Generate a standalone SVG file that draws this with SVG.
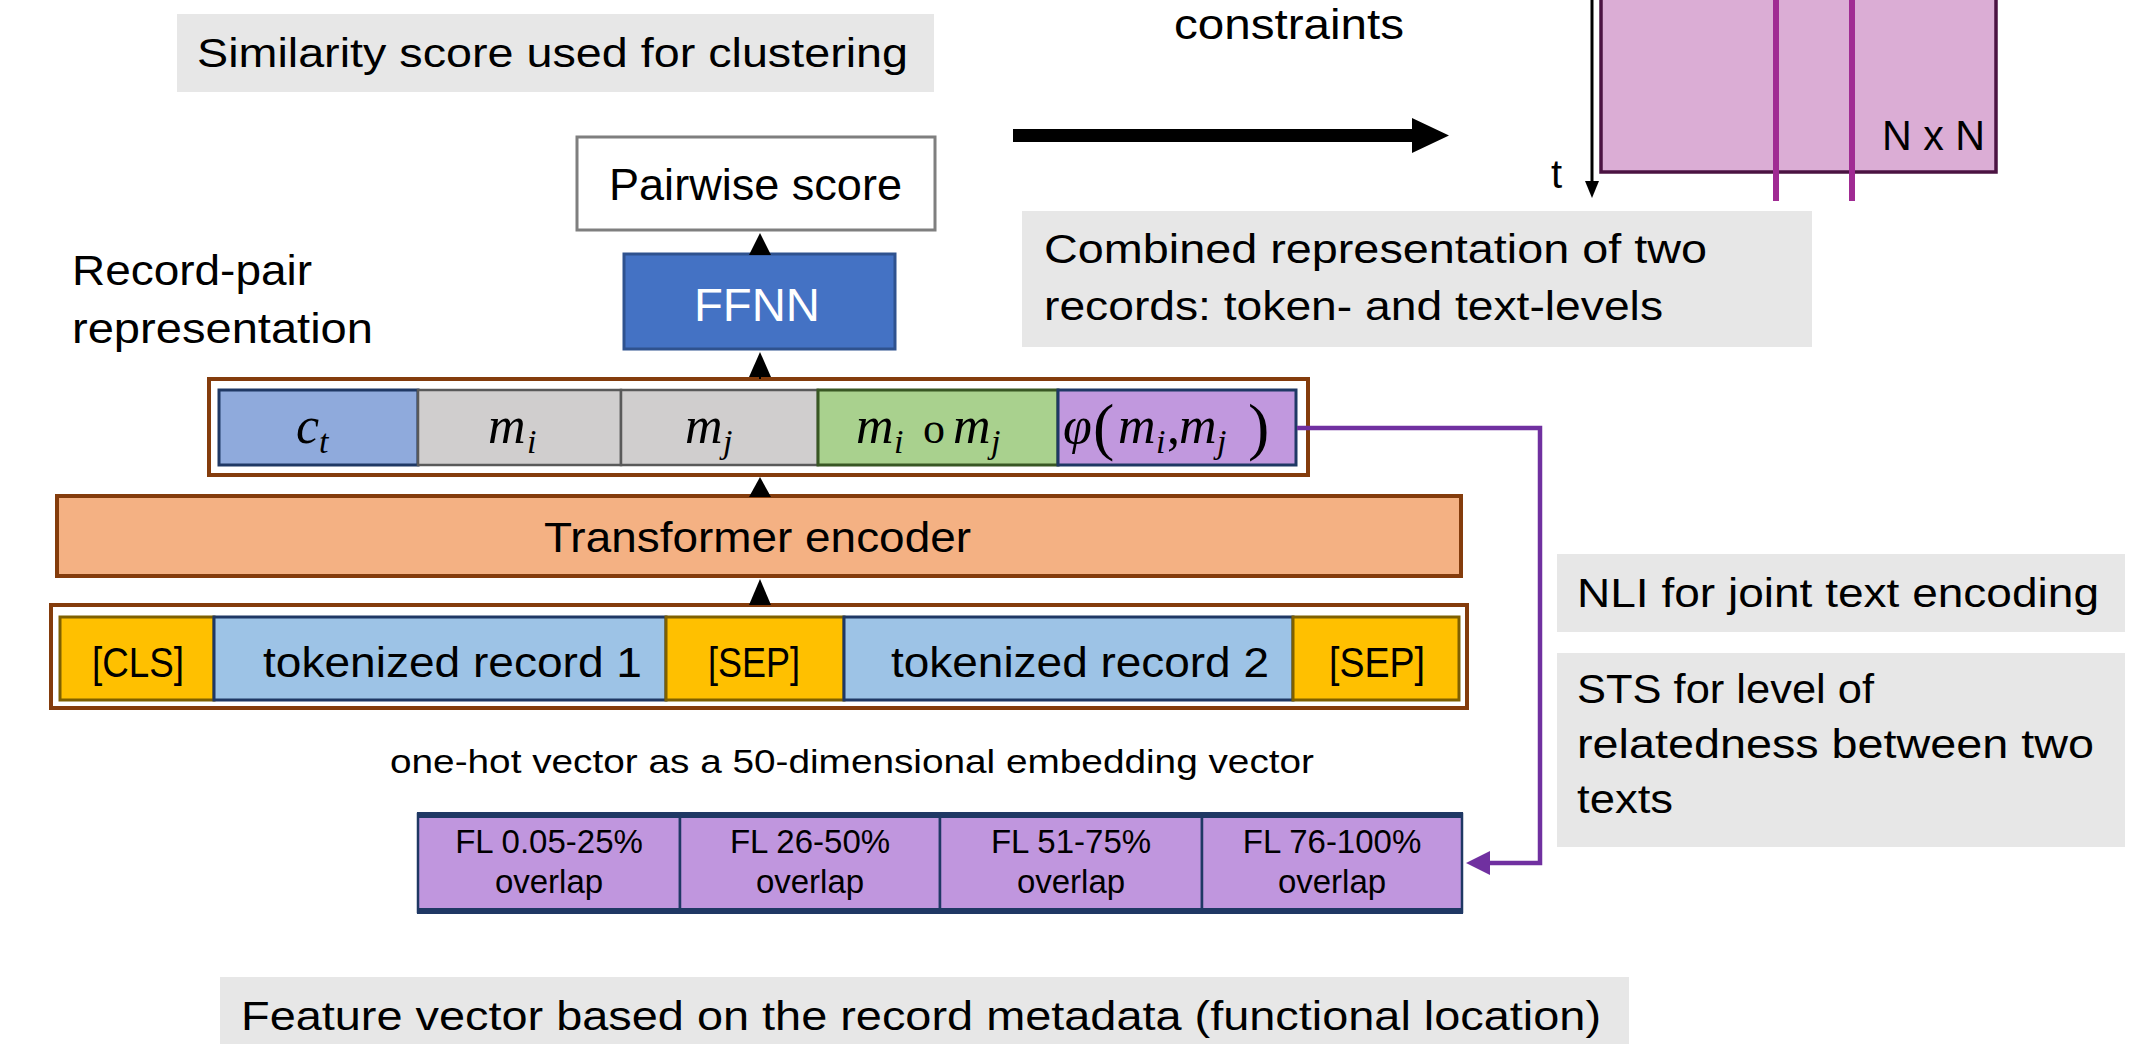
<svg xmlns="http://www.w3.org/2000/svg" width="2139" height="1044" viewBox="0 0 2139 1044">
<style>
.t{font-family:"Liberation Sans",Arial,sans-serif;fill:#000}
.m{font-family:"Liberation Serif","DejaVu Serif",serif;font-style:italic;fill:#000}
.gray{fill:#e7e7e7}
.brown{fill:none;stroke:#843c0c;stroke-width:4}
.navy{stroke:#1f3864;stroke-width:3}
.mcell{fill:#d0cece;stroke:#595959;stroke-width:2.5}
.tok{fill:#9dc3e6;stroke:#1f3864;stroke-width:3}
.sep{fill:#ffc000;stroke:#7f6000;stroke-width:3}
.fl{fill:#c096de;stroke:#1f3864;stroke-width:2.5}
.arr{fill:#000}
</style>
<rect width="2139" height="1044" fill="#fff"/>

<g id="label-similarity">
<rect class="gray" x="177" y="14" width="757" height="78"/>
<text class="t" x="197" y="67" font-size="40" textLength="711" lengthAdjust="spacingAndGlyphs">Similarity score used for clustering</text>
</g>

<g id="label-constraints">
<text class="t" x="1174" y="39" font-size="42" textLength="230" lengthAdjust="spacingAndGlyphs">constraints</text>
</g>

<g id="matrix">
<rect x="1601" y="-10" width="395" height="182" fill="#dbadd5" stroke="#4b1342" stroke-width="3.5"/>
<line x1="1776" y1="0" x2="1776" y2="201" stroke="#a02b93" stroke-width="6"/>
<line x1="1852" y1="0" x2="1852" y2="201" stroke="#a02b93" stroke-width="6"/>
<text class="t" x="1882" y="150" font-size="42" textLength="103" lengthAdjust="spacingAndGlyphs">N x N</text>
<line x1="1592" y1="0" x2="1592" y2="184" stroke="#000" stroke-width="3"/>
<polygon class="arr" points="1585,181 1599,181 1592,198"/>
<text class="t" x="1551" y="188" font-size="40">t</text>
</g>

<g id="label-combined">
<rect class="gray" x="1022" y="211" width="790" height="136"/>
<text class="t" x="1044" y="263" font-size="40" textLength="663" lengthAdjust="spacingAndGlyphs">Combined representation of two</text>
<text class="t" x="1044" y="320" font-size="40" textLength="619" lengthAdjust="spacingAndGlyphs">records: token- and text-levels</text>
</g>

<g id="pairwise-score">
<rect x="577" y="137" width="358" height="93" fill="#fff" stroke="#7f7f7f" stroke-width="3"/>
<text class="t" x="609" y="200" font-size="44" textLength="293" lengthAdjust="spacingAndGlyphs">Pairwise score</text>
</g>

<g id="ffnn">
<rect x="624" y="254" width="271" height="95" fill="#4472c4" stroke="#2f528f" stroke-width="3"/>
<text class="t" x="694" y="321" font-size="46" style="fill:#fff" textLength="126" lengthAdjust="spacingAndGlyphs">FFNN</text>
</g>

<g id="label-record-pair">
<text class="t" x="72" y="285" font-size="42" textLength="240" lengthAdjust="spacingAndGlyphs">Record-pair</text>
<text class="t" x="72" y="343" font-size="42" textLength="301" lengthAdjust="spacingAndGlyphs">representation</text>
</g>

<g id="record-pair-representation">
<rect class="brown" x="209" y="379" width="1099" height="96"/>
<rect x="219" y="390" width="199" height="75" fill="#8faadc" class="navy"/>
<rect class="mcell" x="418" y="390" width="203" height="75"/>
<rect class="mcell" x="621" y="390" width="197" height="75"/>
<rect x="818" y="390" width="240" height="75" fill="#a9d18e" stroke="#385723" stroke-width="3"/>
<rect x="1058" y="390" width="238" height="75" fill="#c198de" stroke="#1f3864" stroke-width="3"/>
<text class="m" y="443" font-size="52"><tspan x="296">c</tspan><tspan x="319" y="453" font-size="34">t</tspan></text>
<text class="m" y="443" font-size="52"><tspan x="488">m</tspan><tspan x="527" y="453" font-size="34">i</tspan></text>
<text class="m" y="443" font-size="52"><tspan x="685">m</tspan><tspan x="723" y="453" font-size="34">j</tspan></text>
<text class="m" y="443" font-size="52"><tspan x="856">m</tspan><tspan x="894" y="453" font-size="34">i</tspan><tspan x="923" y="443" font-style="normal" font-size="44">o</tspan><tspan x="953" y="443">m</tspan><tspan x="991" y="453" font-size="34">j</tspan></text>
<text class="m" y="443" font-size="52"><tspan x="1063">φ</tspan><tspan x="1093" y="448" font-style="normal" font-size="64">(</tspan><tspan x="1118" y="443">m</tspan><tspan x="1156" y="453" font-size="34">i</tspan><tspan x="1167" y="443" font-style="normal">,</tspan><tspan x="1179" y="443">m</tspan><tspan x="1217" y="453" font-size="34">j</tspan><tspan x="1248" y="448" font-style="normal" font-size="64">)</tspan></text>
</g>

<g id="transformer-encoder">
<rect x="57" y="496" width="1404" height="80" fill="#f4b183" stroke="#843c0c" stroke-width="4"/>
<text class="t" x="544" y="552" font-size="42" textLength="427" lengthAdjust="spacingAndGlyphs">Transformer encoder</text>
</g>

<g id="token-sequence">
<rect class="brown" x="51" y="605" width="1416" height="103"/>
<rect class="sep" x="60" y="617" width="154" height="83"/>
<rect class="tok" x="214" y="617" width="452" height="83"/>
<rect class="sep" x="666" y="617" width="178" height="83"/>
<rect class="tok" x="844" y="617" width="449" height="83"/>
<rect class="sep" x="1293" y="617" width="166" height="83"/>
<text class="t" x="92" y="677" font-size="42" textLength="92" lengthAdjust="spacingAndGlyphs">[CLS]</text>
<text class="t" x="263" y="677" font-size="42" textLength="379" lengthAdjust="spacingAndGlyphs">tokenized record 1</text>
<text class="t" x="708" y="677" font-size="42" textLength="92" lengthAdjust="spacingAndGlyphs">[SEP]</text>
<text class="t" x="891" y="677" font-size="42" textLength="378" lengthAdjust="spacingAndGlyphs">tokenized record 2</text>
<text class="t" x="1329" y="677" font-size="42" textLength="96" lengthAdjust="spacingAndGlyphs">[SEP]</text>
</g>

<g id="label-one-hot">
<text class="t" x="390" y="773" font-size="34" textLength="924" lengthAdjust="spacingAndGlyphs">one-hot vector as a 50-dimensional embedding vector</text>
</g>

<g id="fl-vector">
<rect class="fl" x="418" y="814" width="262" height="98"/>
<rect class="fl" x="680" y="814" width="260" height="98"/>
<rect class="fl" x="940" y="814" width="262" height="98"/>
<rect class="fl" x="1202" y="814" width="260" height="98"/>
<line x1="417" y1="815" x2="1463" y2="815" stroke="#1f3864" stroke-width="6"/>
<line x1="417" y1="911" x2="1463" y2="911" stroke="#1f3864" stroke-width="6"/>
<g text-anchor="middle">
<text class="t" x="549" y="853" font-size="33">FL 0.05-25%</text>
<text class="t" x="549" y="893" font-size="33">overlap</text>
<text class="t" x="810" y="853" font-size="33">FL 26-50%</text>
<text class="t" x="810" y="893" font-size="33">overlap</text>
<text class="t" x="1071" y="853" font-size="33">FL 51-75%</text>
<text class="t" x="1071" y="893" font-size="33">overlap</text>
<text class="t" x="1332" y="853" font-size="33">FL 76-100%</text>
<text class="t" x="1332" y="893" font-size="33">overlap</text>
</g>
</g>

<g id="label-nli">
<rect class="gray" x="1557" y="554" width="568" height="78"/>
<text class="t" x="1577" y="607" font-size="40" textLength="522" lengthAdjust="spacingAndGlyphs">NLI for joint text encoding</text>
</g>

<g id="label-sts">
<rect class="gray" x="1557" y="653" width="568" height="194"/>
<text class="t" x="1577" y="703" font-size="40" textLength="297" lengthAdjust="spacingAndGlyphs">STS for level of</text>
<text class="t" x="1577" y="758" font-size="40" textLength="517" lengthAdjust="spacingAndGlyphs">relatedness between two</text>
<text class="t" x="1577" y="813" font-size="40" textLength="96" lengthAdjust="spacingAndGlyphs">texts</text>
</g>

<g id="label-feature">
<rect class="gray" x="220" y="977" width="1409" height="70"/>
<text class="t" x="241" y="1030" font-size="40" textLength="1360" lengthAdjust="spacingAndGlyphs">Feature vector based on the record metadata (functional location)</text>
</g>

<g id="connectors">
<polygon class="arr" points="1013,129 1412,129 1412,118 1449,135.5 1412,153 1412,142 1013,142"/>
<line x1="760" y1="254" x2="760" y2="245" stroke="#000" stroke-width="2"/>
<polygon class="arr" points="749,255 771,255 760,233"/>
<line x1="760" y1="379" x2="760" y2="370" stroke="#000" stroke-width="2"/>
<polygon class="arr" points="749,377 771,377 760,352"/>
<polygon class="arr" points="749,497 771,497 760,477"/>
<polygon class="arr" points="749,605 771,605 760,579"/>
<path d="M1297,428 H1540 V863 H1486" fill="none" stroke="#7030a0" stroke-width="4.5"/>
<polygon points="1490,851 1490,875 1466,863" fill="#7030a0"/>
</g>
</svg>
